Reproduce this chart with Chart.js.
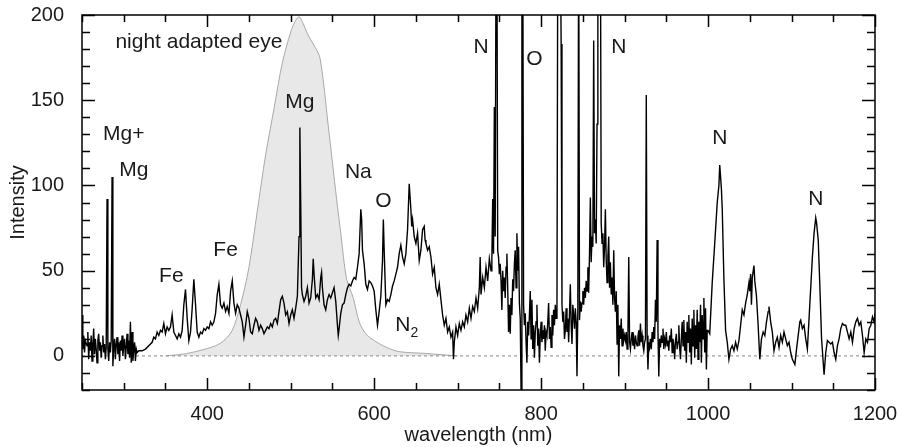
<!DOCTYPE html>
<html>
<head>
<meta charset="utf-8">
<script src="https://cdn.jsdelivr.net/npm/chart.js@4.4.1/dist/chart.umd.min.js"></script>
<style>
  html, body { margin: 0; padding: 0; background: #fff; }
  #wrap { width: 898px; height: 447px; }
</style>
</head>
<body>
<div id="wrap"><canvas id="spectrumChart" width="898" height="447"></canvas></div>
<script>
// spectrum: [wavelength nm, intensity]
const spectrum = [
  [250,24],[251,4],[252,12],[253,2],[254,9],[256,6],[257,14],[258,-2],[259,8],[260,3],[261,12],[262,-3],[263,7],[264,16],
  [265,1],[266,10],[267,4],[268,-4],[269,9],[270,13],[271,3],[272,8],[273,-1],[274,6],[275,12],[276,2],[277,7],[278,-2],
  [279,5],[280,92],[281,4],[282,-3],[283,8],[284,2],[285,9],[286,105],[287,-6],[288,5],[289,10],[290,-2],[291,7],[292,11],
  [293,1],[294,8],[295,-3],[296,9],[297,3],[298,12],[299,0],[300,6],[301,10],[302,-2],[303,5],[304,13],[305,1],[306,9],
  [307,-1],[308,20],[309,-4],[310,14],[311,-3],[312,4],[313,8],[314,-3],[315,4],[316,2],[318,3],[322,3],[326,4],[330,6],
  [334,8],[336,11],[338,10],[340,14],[342,12],[344,15],[346,14],[348,19],[350,13],[352,17],[354,15],[356,17],[358,24],
  [360,14],[362,12],[364,10],[366,13],[368,11],[370,15],[372,30],[374,39],[376,22],[378,9],[380,14],[382,28],[384,45],
  [386,30],[388,14],[390,11],[392,14],[394,13],[396,16],[398,15],[400,17],[402,16],[404,20],[406,18],[408,20],[410,25],
  [412,36],[414,42],[416,30],[418,28],[420,31],[422,26],[424,29],[426,25],[428,38],[430,44],[432,31],[434,25],[436,30],
  [438,28],[440,24],[442,20],[444,11],[446,18],[448,26],[450,22],[452,14],[454,13],[456,18],[458,22],[460,20],[462,15],
  [464,18],[466,16],[468,13],[470,15],[472,17],[474,16],[476,19],[478,17],[480,21],[482,22],[484,19],[486,26],[488,33],
  [490,35],[492,31],[494,24],[496,26],[498,19],[500,24],[502,27],[504,22],[506,28],[508,35],[510,70],[511,134],[512,90],
  [513,40],[514,36],[516,32],[518,35],[520,40],[522,31],[524,34],[526,45],[527,57],[528,48],[530,34],[532,36],[534,33],
  [536,46],[537,49],[538,40],[540,30],[542,27],[544,33],[546,36],[548,34],[550,37],[552,40],[554,32],[556,18],[557,12],
  [558,16],[560,25],[562,30],[564,31],[566,36],[568,40],[570,42],[572,41],[574,44],[576,46],[578,45],[580,52],[582,60],
  [584,86],[585,80],[586,62],[588,54],[590,42],[592,39],[594,44],[596,43],[598,41],[600,38],[602,27],[604,18],[606,26],
  [608,35],[610,56],[611,80],[612,62],[614,30],[616,33],[618,32],[620,36],[622,41],[624,44],[626,48],[628,52],[630,60],
  [632,65],[634,58],[636,54],[638,60],[640,74],[642,101],[644,86],[645,76],[646,80],[648,70],[650,66],[652,72],[654,56],
  [656,62],[658,74],[660,76],[661,68],[662,66],[664,62],[666,64],[668,58],[670,48],[672,52],[674,40],[676,36],[678,42],
  [680,33],[682,24],[684,18],[686,22],[688,14],[690,17],[692,11],[694,14],[695,-2],[696,8],[698,17],[700,12],[702,19],
  [704,15],[706,20],[708,17],[710,24],[712,20],[714,28],[716,22],[718,29],[720,26],[722,34],[724,28],[726,40],[727,58],
  [728,36],[730,46],[732,40],[734,52],[736,44],[738,57],[740,50],[741,56],[742,92],[743,60],[744,146],[745,70],[746,240],
  [747,250],[748,62],[749,58],[750,48],[751,54],[752,44],[753,27],[754,50],[755,38],[756,46],[757,34],[758,52],[759,60],
  [760,40],[761,14],[762,30],[763,13],[764,34],[765,24],[766,45],[767,38],[768,54],[769,62],[770,40],[771,72],[772,50],
  [773,64],[774,31],[775,22],[776,-20],[777,260],[778,260],[779,30],[780,18],[781,25],[782,8],[783,-4],[784,20],[785,12],
  [786,24],[787,38],[788,10],[789,33],[790,4],[791,18],[792,-1],[793,14],[794,20],[795,30],[796,6],[797,16],[798,-4],
  [799,12],[800,20],[801,8],[802,15],[803,10],[804,18],[805,3],[806,14],[807,12],[808,20],[809,31],[810,10],[811,17],
  [812,5],[813,24],[814,12],[815,27],[816,18],[817,30],[818,22],[819,27],[820,250],[821,260],[822,260],[823,250],[824,183],
  [825,30],[826,20],[827,26],[828,10],[829,15],[830,28],[831,14],[832,22],[833,8],[834,25],[835,42],[836,18],[837,7],
  [838,30],[839,24],[840,16],[841,28],[842,20],[843,-12],[844,26],[845,260],[846,21],[847,32],[848,26],[849,31],[850,38],
  [851,30],[852,40],[853,34],[854,44],[855,38],[856,52],[857,37],[858,60],[859,93],[860,55],[861,70],[862,64],[863,185],
  [864,72],[865,80],[866,66],[867,136],[868,260],[869,260],[870,260],[871,260],[872,78],[873,66],[874,72],[875,52],
  [876,64],[877,86],[878,56],[879,43],[880,58],[881,70],[882,40],[883,55],[884,36],[885,46],[886,30],[887,62],[888,34],
  [889,26],[890,38],[891,7],[892,30],[893,-12],[894,18],[895,10],[896,22],[897,6],[898,16],[899,9],[900,12],[901,9],
  [902,14],[903,4],[904,12],[905,58],[906,8],[907,4],[908,10],[909,14],[910,6],[911,10],[912,4],[913,12],[914,8],[915,6],
  [916,11],[917,15],[918,6],[919,19],[920,8],[921,12],[922,6],[923,3],[924,8],[925,10],[926,153],[927,12],[928,-8],
  [929,8],[930,5],[931,10],[932,4],[933,14],[934,8],[935,17],[936,10],[937,33],[938,20],[939,68],[940,14],[941,-12],
  [942,10],[943,5],[944,12],[945,8],[946,16],[947,4],[948,10],[949,7],[950,14],[951,6],[952,9],[953,3],[954,12],[955,8],
  [956,16],[957,2],[958,10],[959,6],[960,-2],[961,9],[962,13],[963,4],[964,8],[965,18],[966,5],[967,-2],[968,10],[969,20],
  [970,6],[971,21],[972,3],[973,14],[974,-4],[975,20],[976,8],[977,24],[978,2],[979,16],[980,-5],[981,22],[982,6],
  [983,27],[984,-1],[985,18],[986,4],[987,27],[988,-2],[989,20],[990,8],[991,30],[992,-4],[993,24],[994,10],[995,34],
  [996,2],[997,28],[998,-8],[999,15],[1000,15],[1002,13],[1005,43],[1008,66],[1011,90],[1013,100],[1014,112],[1016,98],
  [1017,86],[1019,45],[1021,15],[1023,8],[1025,-2],[1027,4],[1029,6],[1031,3],[1033,8],[1035,4],[1037,9],[1039,18],
  [1041,27],[1043,24],[1045,31],[1047,36],[1049,43],[1050,38],[1051,48],[1052,30],[1053,46],[1055,53],[1056,44],[1058,35],
  [1060,18],[1062,-2],[1064,10],[1066,14],[1068,12],[1070,20],[1072,26],[1073,29],[1075,20],[1077,14],[1079,3],[1081,8],
  [1083,11],[1085,5],[1087,12],[1089,8],[1091,14],[1093,10],[1095,6],[1097,8],[1099,2],[1101,-2],[1104,-5],[1106,4],
  [1108,12],[1110,20],[1111,21],[1113,16],[1115,18],[1117,10],[1119,4],[1121,22],[1123,40],[1125,58],[1127,72],[1129,81],
  [1130,78],[1132,68],[1134,40],[1136,10],[1138,-4],[1139,-11],[1141,2],[1143,9],[1145,8],[1147,7],[1149,8],[1151,2],
  [1153,-2],[1155,6],[1157,10],[1159,16],[1161,19],[1163,18],[1165,18],[1167,14],[1169,10],[1171,14],[1173,8],[1175,16],
  [1177,20],[1179,22],[1181,18],[1183,20],[1185,12],[1187,2],[1189,10],[1191,8],[1193,16],[1195,18],[1197,23],[1199,20],
  [1200,25]
];

// night adapted eye sensitivity (scaled)
const eyeWavelength = [350, 370, 390, 410, 420, 430, 440, 450, 460, 470, 480, 490, 500, 505, 510, 515, 520, 527, 535, 545, 555, 560, 567, 575, 582, 590, 600, 615, 630, 660, 700];
const eyeValue      = [0,   1,   3,   6,   9,   15,  30,  52,  85,  118, 145, 172, 190, 196, 199, 195, 189, 183, 175, 135, 92,  72,  45,  34,  20,  13,  9,   5,   2.5, 1.5, 0];

const zeroLine = [[250, 0], [1200, 0]];

const xTickLabels = [400, 600, 800, 1000, 1200];
const yTickLabels = [0, 50, 100, 150, 200];

// line labels
const labelText = ['night adapted eye', 'Mg+', 'Mg', 'Fe', 'Fe', 'Mg', 'Na', 'O', 'N', 'N', 'O', 'N', 'N', 'N'];
const labelSub  = ['', '', '', '', '', '', '', '', '2', '', '', '', '', ''];
const labelX    = [390, 300, 312, 357, 422, 511, 581, 611, 639, 728, 792, 893, 1014, 1129];
const labelY    = [184, 130, 109, 47, 62, 149, 108, 91, 18, 181, 174, 181, 128, 92];

const FONT = '"Liberation Sans", Arial, Helvetica, sans-serif';

function toXY(pairs) {
    return pairs.map(p => ({ x: p[0], y: p[1] }));
}

// cadre + graduations tournées vers l'intérieur
const frameTicks = {
    id: 'frameTicks',
    afterDatasetsDraw(chart) {
        const { ctx, chartArea: a, scales } = chart;
        ctx.save();
        ctx.strokeStyle = '#000';
        ctx.lineWidth = 1.5;
        scales.x.ticks.forEach(t => {
            const px = Math.round(scales.x.getPixelForValue(t.value)) + 0.5;
            const len = xTickLabels.includes(t.value) ? 12 : 7;
            ctx.beginPath();
            ctx.moveTo(px, a.bottom); ctx.lineTo(px, a.bottom - len);
            ctx.moveTo(px, a.top); ctx.lineTo(px, a.top + len);
            ctx.stroke();
        });
        scales.y.ticks.forEach(t => {
            const py = Math.round(scales.y.getPixelForValue(t.value)) + 0.5;
            const len = yTickLabels.includes(t.value) ? 13 : 8;
            ctx.beginPath();
            ctx.moveTo(a.left, py); ctx.lineTo(a.left + len, py);
            ctx.moveTo(a.right, py); ctx.lineTo(a.right - len, py);
            ctx.stroke();
        });
        ctx.strokeRect(a.left, a.top, a.right - a.left, a.bottom - a.top);

        // textos das linhas
        ctx.fillStyle = '#1a1a1a';
        ctx.textBaseline = 'middle';
        labelText.forEach((txt, i) => {
            const px = scales.x.getPixelForValue(labelX[i]);
            const py = scales.y.getPixelForValue(labelY[i]);
            ctx.font = '21px ' + FONT;
            const w = ctx.measureText(txt).width;
            let sw = 0;
            if (labelSub[i]) {
                ctx.font = '14px ' + FONT;
                sw = ctx.measureText(labelSub[i]).width;
            }
            const x0 = px - (w + sw) / 2;
            ctx.font = '21px ' + FONT;
            ctx.textAlign = 'left';
            ctx.fillText(txt, x0, py);
            if (labelSub[i]) {
                ctx.font = '14px ' + FONT;
                ctx.fillText(labelSub[i], x0 + w, py + 8);
            }
        });
        ctx.restore();
    }
};

const ctx = document.getElementById('spectrumChart').getContext('2d');
new Chart(ctx, {
    type: 'line',
    data: {
        datasets: [{
            label: 'spectrum',
            data: toXY(spectrum),
            borderColor: '#000',
            borderWidth: 1.4,
            pointRadius: 0,
            fill: false,
            tension: 0
        }, {
            label: 'zero',
            data: toXY(zeroLine),
            borderColor: '#888',
            borderWidth: 1,
            borderDash: [3, 3],
            pointRadius: 0,
            fill: false
        }, {
            label: 'night adapted eye',
            data: eyeWavelength.map((w, i) => ({ x: w, y: eyeValue[i] })),
            borderColor: '#a8a8a8',
            borderWidth: 1,
            backgroundColor: '#e8e8e8',
            pointRadius: 0,
            fill: 'origin',
            tension: 0.3
        }]
    },
    options: {
        responsive: false,
        animation: false,
        parsing: false,
        layout: { padding: { top: 15, right: 23, left: 0, bottom: 0 } },
        plugins: {
            legend: { display: false },
            tooltip: { enabled: false }
        },
        scales: {
            x: {
                type: 'linear',
                min: 250,
                max: 1200,
                grid: { display: false },
                border: { display: false },
                ticks: {
                    stepSize: 50,
                    autoSkip: false,
                    maxRotation: 0,
                    padding: 4,
                    color: '#1a1a1a',
                    font: { family: FONT, size: 20 },
                    callback: v => xTickLabels.includes(v) ? String(v) : ''
                },
                title: {
                    display: true,
                    text: 'wavelength (nm)',
                    color: '#1a1a1a',
                    font: { family: FONT, size: 20 },
                    padding: { top: 0, bottom: 0 }
                },
                afterFit: s => {
                    s.height = 57;
                    s.paddingLeft = 0;
                    s.paddingRight = 0;
                }
            },
            y: {
                min: -20,
                max: 200,
                grid: { display: false },
                border: { display: false },
                ticks: {
                    stepSize: 10,
                    autoSkip: false,
                    padding: 10,
                    color: '#1a1a1a',
                    font: { family: FONT, size: 20 },
                    callback: v => yTickLabels.includes(v) ? String(v) : ''
                },
                title: {
                    display: true,
                    text: 'Intensity',
                    color: '#1a1a1a',
                    font: { family: FONT, size: 20 },
                    padding: { top: 6, bottom: 0 }
                },
                afterFit: s => {
                    s.width = 82;
                    s.paddingTop = 0;
                    s.paddingBottom = 0;
                }
            }
        }
    },
    plugins: [frameTicks]
});
</script>
</body>
</html>
